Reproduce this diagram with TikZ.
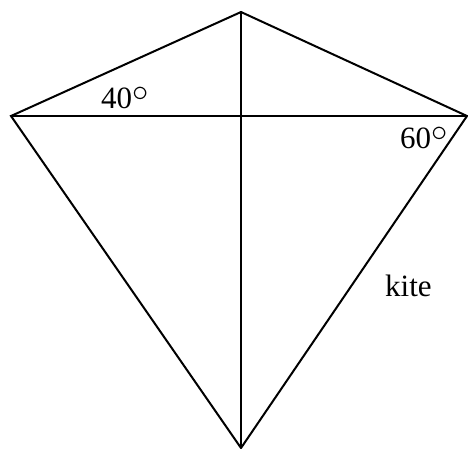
\documentclass[tikz,border=0pt]{standalone}
\usepackage{fontspec}
\setmainfont{Liberation Serif}
\newcommand{\dg}{\raisebox{0.2em}{\scalebox{1.3}{$\circ$}}}
\begin{document}
\begin{tikzpicture}[x=1pt,y=-1pt,
  edge/.style={line width=2pt,line join=miter},
  lbl/.style={anchor=base west,inner sep=0pt,font=\fontsize{31}{36}\selectfont}]
\useasboundingbox (0,0) rectangle (468,448);
\coordinate (T) at (241,12);
\coordinate (L) at (11,116);
\coordinate (R) at (467,116);
\coordinate (B) at (241,448);
\draw[edge] (T) -- (L) -- (B) -- (R) -- cycle;
\draw[edge] (T) -- (B);
\draw[edge] (L) -- (R);
\node[lbl] (a40) at (101,108) {40\dg};
\node[lbl] (a60) at (400,148) {60\dg};
\node[lbl] (kite) at (385,296) {kite};
\end{tikzpicture}
\end{document}
